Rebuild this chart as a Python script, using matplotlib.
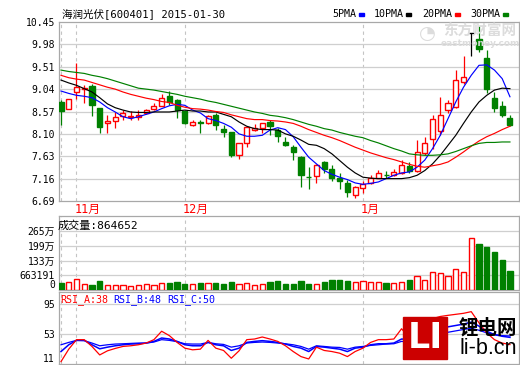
import matplotlib
matplotlib.use('Agg')
import matplotlib.pyplot as plt
from matplotlib.patches import Rectangle
import numpy as np

plt.rcParams['font.family'] = ['DejaVu Sans Mono', 'Noto Sans CJK SC']

W, H = 520, 365

# ---------------- data ----------------
opens = [8.78, 8.63, 8.99, 9.05, 9.10, 8.64, 8.32, 8.37, 8.48, 8.45, 8.45, 8.53, 8.63, 8.69, 8.89,
         8.81, 8.58, 8.29, 8.35, 8.32, 8.49, 8.20, 8.13, 7.66, 7.90, 8.19, 8.23, 8.34, 8.18, 7.92,
         7.82, 7.61, 7.20, 7.21, 7.50, 7.36, 7.17, 7.06, 6.81, 6.97, 7.06, 7.18, 7.24, 7.23, 7.28,
         7.43, 7.32, 7.69, 8.00, 8.15, 8.60, 8.66, 9.18, 10.22, 10.10, 9.70, 8.86, 8.68, 8.44]
closes = [8.58, 8.83, 9.08, 9.06, 8.70, 8.24, 8.36, 8.46, 8.53, 8.48, 8.50, 8.61, 8.68, 8.85, 8.78,
          8.60, 8.33, 8.34, 8.32, 8.48, 8.28, 8.14, 7.65, 7.90, 8.24, 8.22, 8.32, 8.27, 8.06, 7.87,
          7.72, 7.24, 7.19, 7.44, 7.36, 7.18, 7.12, 6.88, 6.98, 7.04, 7.18, 7.27, 7.23, 7.29, 7.45,
          7.32, 7.71, 7.90, 8.41, 8.50, 8.74, 9.24, 9.29, 10.22, 9.88, 9.05, 8.65, 8.49, 8.28]
highs = [8.81, 8.84, 9.59, 9.12, 9.14, 8.64, 8.49, 8.56, 8.61, 8.58, 8.60, 8.63, 8.75, 8.93, 9.00,
         8.84, 8.61, 8.40, 8.40, 8.50, 8.53, 8.29, 8.14, 7.91, 8.27, 8.30, 8.33, 8.39, 8.23, 8.03,
         7.86, 7.63, 7.40, 7.46, 7.53, 7.45, 7.27, 7.14, 7.00, 7.12, 7.23, 7.35, 7.32, 7.37, 7.56,
         7.51, 7.97, 8.03, 8.49, 8.87, 8.82, 9.44, 9.73, 10.22, 10.36, 9.86, 8.98, 8.79, 8.50]
lows = [8.28, 8.62, 8.84, 8.75, 8.48, 8.11, 8.12, 8.22, 8.40, 8.40, 8.40, 8.51, 8.61, 8.68, 8.70,
        8.43, 8.30, 8.27, 8.11, 8.30, 8.18, 8.03, 7.61, 7.58, 7.82, 8.16, 8.11, 8.07, 7.92, 7.84,
        7.56, 6.98, 6.95, 7.07, 7.27, 7.12, 6.94, 6.77, 6.76, 6.86, 7.04, 7.17, 7.18, 7.22, 7.25,
        7.28, 7.30, 7.65, 7.79, 8.07, 8.53, 8.65, 9.14, 9.74, 9.82, 8.95, 8.56, 8.45, 8.26]

ma5 = [9.00, 8.95, 8.91, 8.89, 8.86, 8.77, 8.65, 8.56, 8.46, 8.42, 8.46, 8.51, 8.56, 8.63, 8.69,
       8.72, 8.70, 8.60, 8.54, 8.42, 8.38, 8.32, 8.24, 8.10, 8.05, 8.05, 8.07, 8.18, 8.23, 8.19,
       8.04, 7.82, 7.61, 7.47, 7.33, 7.25, 7.19, 7.14, 7.07, 7.04, 7.06, 7.09, 7.16, 7.23, 7.28,
       7.30, 7.40, 7.55, 7.79, 8.07, 8.42, 8.77, 9.08, 9.33, 9.54, 9.55, 9.44, 9.26, 8.88]
ma10 = [9.23, 9.17, 9.12, 9.05, 8.98, 8.86, 8.73, 8.65, 8.60, 8.56, 8.55, 8.55, 8.56, 8.56, 8.56,
        8.58, 8.60, 8.58, 8.58, 8.56, 8.56, 8.51, 8.46, 8.35, 8.26, 8.21, 8.19, 8.19, 8.18, 8.10,
        8.05, 7.97, 7.88, 7.86, 7.79, 7.68, 7.54, 7.40, 7.28, 7.19, 7.17, 7.16, 7.16, 7.16, 7.16,
        7.18, 7.23, 7.33, 7.47, 7.65, 7.86, 8.07, 8.32, 8.56, 8.77, 8.91, 9.02, 9.06, 9.05]
ma20 = [9.33, 9.28, 9.25, 9.23, 9.18, 9.13, 9.08, 9.04, 8.98, 8.93, 8.89, 8.85, 8.82, 8.78, 8.76,
        8.70, 8.66, 8.63, 8.62, 8.60, 8.57, 8.55, 8.50, 8.46, 8.42, 8.40, 8.40, 8.38, 8.37, 8.35,
        8.32, 8.26, 8.19, 8.13, 8.07, 8.02, 7.96, 7.89, 7.82, 7.76, 7.70, 7.65, 7.60, 7.56, 7.51,
        7.46, 7.42, 7.40, 7.43, 7.46, 7.51, 7.61, 7.72, 7.84, 7.95, 8.04, 8.11, 8.19, 8.26]
ma30 = [9.44, 9.41, 9.39, 9.37, 9.33, 9.30, 9.26, 9.21, 9.16, 9.11, 9.06, 9.04, 9.02, 8.99, 8.96,
        8.93, 8.89, 8.86, 8.83, 8.79, 8.76, 8.72, 8.68, 8.64, 8.60, 8.56, 8.53, 8.49, 8.47, 8.44,
        8.40, 8.35, 8.30, 8.26, 8.21, 8.18, 8.13, 8.09, 8.05, 8.02, 7.96, 7.91, 7.85, 7.79, 7.74,
        7.68, 7.66, 7.65, 7.65, 7.66, 7.68, 7.73, 7.79, 7.85, 7.90, 7.92, 7.92, 7.93, 7.93]

volumes = [297000, 340000, 515000, 253000, 209000, 384000, 209000, 209000, 209000, 166000,
           209000, 253000, 209000, 297000, 297000, 340000, 253000, 253000, 297000, 297000,
           297000, 253000, 340000, 253000, 297000, 209000, 253000, 340000, 384000, 253000,
           253000, 384000, 253000, 253000, 340000, 428000, 428000, 384000, 340000, 384000,
           340000, 340000, 297000, 297000, 340000, 428000, 646000, 471000, 820000, 777000,
           646000, 951000, 820000, 2348000, 2057000, 1955000, 1708000, 1344000, 864652]

rsi_a = [14.3, 31.6, 44.8, 44.8, 35.4, 23.6, 29.3, 32.6, 35.4, 36.3, 37.7, 40.1, 44.8, 56.5, 50.4,
         41.0, 33.0, 30.7, 31.6, 43.8, 33.0, 29.8, 19.0, 29.3, 44.8, 45.7, 48.5, 45.7, 42.4, 36.3,
         28.3, 21.3, 18.0, 34.4, 29.8, 28.3, 26.0, 21.3, 28.3, 33.0, 41.0, 44.8, 44.8, 45.7, 60.0,
         47.1, 68.0, 70.0, 74.0, 77.0, 78.6, 80.0, 81.4, 83.7, 68.2, 54.2, 44.8, 40.1, 38.0]
rsi_b = [28.3, 37.7, 43.8, 43.8, 37.7, 32.1, 34.4, 36.3, 37.7, 38.7, 39.1, 40.1, 42.4, 47.1, 45.7,
         42.4, 37.7, 36.3, 36.3, 41.0, 37.7, 36.3, 29.8, 33.0, 41.0, 42.4, 43.4, 42.4, 41.0, 38.7,
         35.4, 33.0, 28.3, 35.4, 34.4, 33.0, 31.6, 28.3, 33.0, 34.4, 37.7, 39.1, 39.1, 40.1, 45.7,
         44.8, 52.0, 56.0, 60.0, 62.0, 62.6, 64.5, 66.4, 69.2, 63.6, 56.5, 51.8, 49.5, 48.0]
rsi_c = [37.7, 41.0, 43.8, 43.4, 40.1, 36.3, 37.7, 38.7, 39.1, 39.6, 40.1, 40.1, 41.5, 44.8, 43.8,
         42.0, 39.1, 38.7, 38.7, 41.0, 39.1, 38.2, 34.4, 36.3, 40.1, 41.0, 41.5, 41.0, 40.1, 39.1,
         37.7, 35.4, 31.6, 36.3, 35.4, 34.4, 34.0, 31.6, 34.4, 35.4, 36.8, 37.7, 38.7, 39.1, 42.4,
         41.5, 46.0, 49.0, 52.0, 54.0, 55.1, 57.0, 58.9, 60.7, 57.9, 54.2, 51.8, 50.4, 50.0]

price_ticks = [10.45, 9.98, 9.51, 9.04, 8.57, 8.10, 7.63, 7.16, 6.69]
vol_ticks = [0, 663191, 1326382, 1989573, 2652764]
vol_tick_labels = ['0', '663191', '133万', '199万', '265万']
rsi_ticks = [11, 53, 95]
month_idx = [2, 16, 39]
month_labels = ['11月', '12月', '1月']
divider_idx = [0, 2, 16, 39]
title = '海润光伏[600401] 2015-01-30'
ma_names = ['5PMA', '10PMA', '20PMA', '30PMA']

# ---------------- styles ----------------
RED = '#ff0000'
GREEN = '#008000'
BLUE = '#0000ff'
FRAME = '#a8a8a8'
GRID = '#cfcfcf'
DASH = '#c4c4c4'
ma_colors = [BLUE, 'black', RED, GREEN]


def rect(l, t, r, b):
    return [l / W, 1 - b / H, (r - l) / W, (b - t) / H]


def fx(x):
    return x / W


def fy(y):
    return 1 - y / H


fig = plt.figure(figsize=(W / 100, H / 100), dpi=100)
fig.patch.set_facecolor('white')

ax_p = fig.add_axes(rect(59, 22, 519, 201))
ax_v = fig.add_axes(rect(59, 216, 519, 290))
ax_r = fig.add_axes(rect(59, 292, 519, 364))

n = len(closes)
x = np.arange(n)
XL = (-0.26, 59.17)

for ax in (ax_p, ax_v, ax_r):
    ax.set_xlim(*XL)
    ax.set_xticks([])
    for s in ax.spines.values():
        s.set_color(FRAME)
        s.set_linewidth(0.9)
    ax.tick_params(axis='y', length=0, pad=3, labelsize=7)
    for d in divider_idx:
        ax.axvline(d, color=DASH, lw=0.8, ls=(0, (3, 3)), zorder=0)

# ---------------- price panel ----------------
ax_p.set_ylim(6.69, 10.45)
ax_p.set_yticks(price_ticks)
ax_p.set_yticklabels(['%.2f' % t for t in price_ticks])
for t in price_ticks[1:-1]:
    ax_p.axhline(t, color=GRID, lw=0.9, zorder=0)

o = np.array(opens); c = np.array(closes); h = np.array(highs); lo = np.array(lows)
up = c > o
dn = c < o
edge_cols = [RED if u else (GREEN if d else 'black') for u, d in zip(up, dn)]
face_cols = ['white' if u else (GREEN if d else 'black') for u, d in zip(up, dn)]
top = np.maximum(o, c)
bot = np.minimum(o, c)
ax_p.vlines(x, top, h, colors=edge_cols, lw=0.9, zorder=3)
ax_p.vlines(x, lo, bot, colors=edge_cols, lw=0.9, zorder=3)
ax_p.bar(x, top - bot, bottom=bot, width=0.66, color=face_cols, edgecolor=edge_cols,
         linewidth=1.0, zorder=4)

for vals, col in zip([ma5, ma10, ma20, ma30], ma_colors):
    ax_p.plot(x, vals, color=col, lw=0.85, zorder=5)

trans = ax_p.get_xaxis_transform()
for i, lab in zip(month_idx, month_labels):
    ax_p.text(i - 0.3, -0.045, lab, transform=trans, ha='left', va='center',
              color=RED, fontsize=8.5)

# watermark
fig.text(fx(427), fy(33), '◔', ha='center', va='center', fontsize=14,
         color='#dcdcdc', family=['DejaVu Sans'], zorder=1)
fig.text(fx(480), fy(31), '东方财富网', ha='center', va='center', fontsize=10.5,
         fontweight='bold', color='#dcdcdc', family=['Noto Sans CJK SC'], zorder=1)
fig.text(fx(480), fy(43.5), 'eastmoney.com', ha='center', va='center', fontsize=6.5,
         fontweight='bold', color='#dcdcdc', family=['DejaVu Sans'], zorder=1)

# title + legend
fig.text(fx(62), fy(14), title, ha='left', va='center', fontsize=7.6)
leg_x = [332, 374, 422, 470]
leg_w = [24, 29, 30, 30]
for lx, lw_, name, col in zip(leg_x, leg_w, ma_names, ma_colors):
    fig.text(fx(lx), fy(14), name, ha='left', va='center', fontsize=7.2)
    fig.add_artist(Rectangle((fx(lx + lw_ + 3), fy(15.5)), 5 / W, 3 / H,
                             transform=fig.transFigure, color=col))

# ---------------- volume panel ----------------
ax_v.set_ylim(0, 2652764 * 74 / 59)
ax_v.set_yticks(vol_ticks)
ax_v.set_yticklabels(vol_tick_labels)
ax_v.get_yticklabels()[0].set_verticalalignment('bottom')
for t in vol_ticks[1:]:
    ax_v.axhline(t, color=GRID, lw=0.9, zorder=0)
vup = c >= o
v_edge = [RED if u else GREEN for u in vup]
v_face = ['white' if u else GREEN for u in vup]
ax_v.bar(x, volumes, width=0.68, color=v_face, edgecolor=v_edge, linewidth=1.0, zorder=3)
fig.text(fx(58), fy(226), '成交量:%d' % volumes[-1], ha='left', va='center', fontsize=8)

# ---------------- RSI panel ----------------
ax_r.set_ylim(11, 111)
ax_r.set_yticks(rsi_ticks)
ax_r.set_yticklabels([str(t) for t in rsi_ticks])
ax_r.get_yticklabels()[0].set_verticalalignment('bottom')
for t in rsi_ticks[1:]:
    ax_r.axhline(t, color=GRID, lw=0.9, zorder=0)
ax_r.plot(x, rsi_c, color=BLUE, lw=0.9, zorder=3)
ax_r.plot(x, rsi_b, color=BLUE, lw=1.1, zorder=3)
ax_r.plot(x, rsi_a, color=RED, lw=0.9, zorder=4)
fig.text(fx(60), fy(300), 'RSI_A:%d' % round(rsi_a[-1]), color=RED, ha='left', va='center', fontsize=7.2)
fig.text(fx(113), fy(300), 'RSI_B:%d' % round(rsi_b[-1]), color=BLUE, ha='left', va='center', fontsize=7.2)
fig.text(fx(167), fy(300), 'RSI_C:%d' % round(rsi_c[-1]), color=BLUE, ha='left', va='center', fontsize=7.2)

# ---------------- logo ----------------
fig.add_artist(Rectangle((fx(403), fy(359)), 44 / W, 42 / H, transform=fig.transFigure,
                         color='#cc0000', zorder=10))
fig.text(fx(425), fy(338.5), 'LI', ha='center', va='center', color='white', fontsize=25,
         fontweight='bold', family=['DejaVu Sans'], zorder=11)
fig.text(fx(488), fy(328), '锂电网', ha='center', va='center', color='black', fontsize=14,
         fontweight='bold', family=['Noto Sans CJK SC'], zorder=11)
fig.text(fx(488), fy(349), 'li-b.cn', ha='center', va='center', color='black', fontsize=15.5,
         family=['Liberation Sans', 'DejaVu Sans'], zorder=11)

fig.savefig('out.png', dpi=100)
